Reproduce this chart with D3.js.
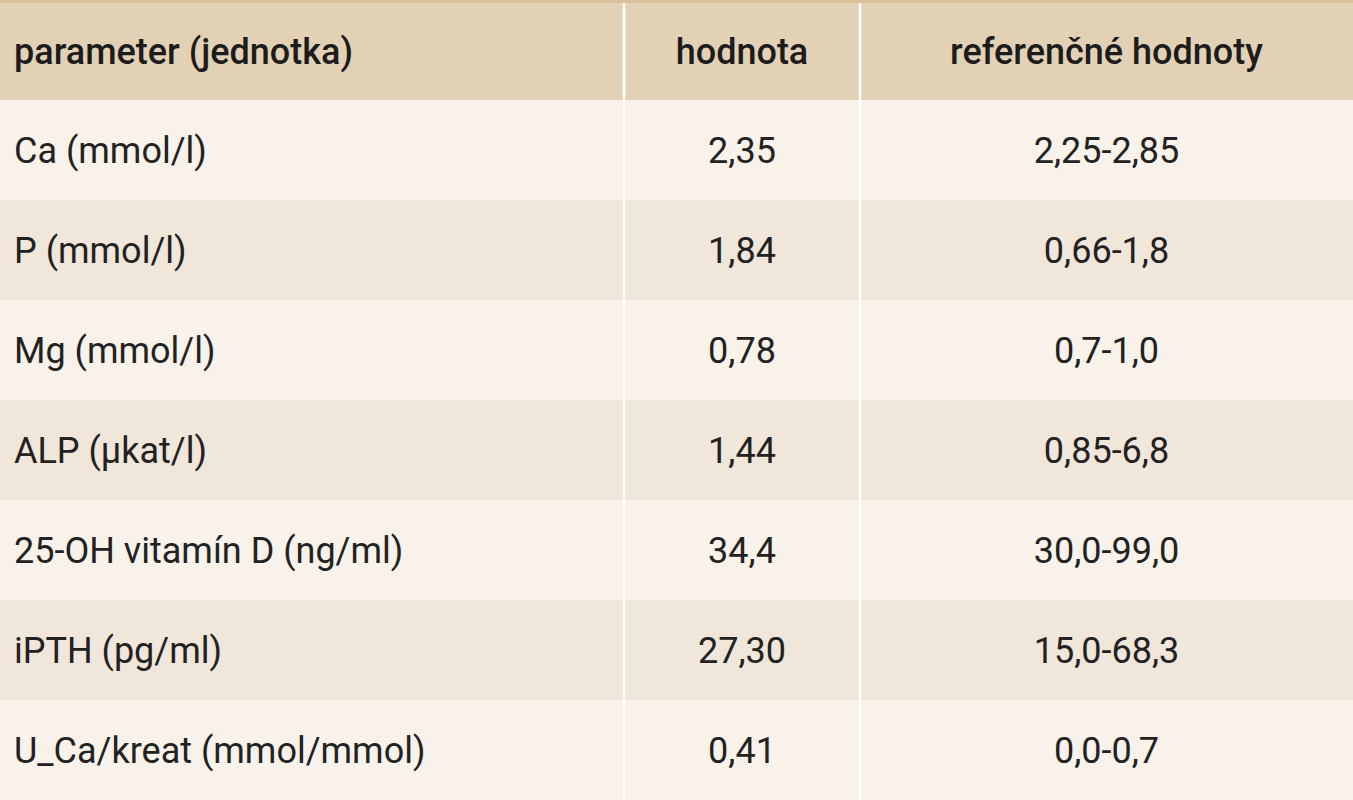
<!DOCTYPE html>
<html><head><meta charset="utf-8">
<script src="https://cdn.jsdelivr.net/npm/d3@7"></script>
<style>body{margin:0;background:#fff}</style></head>
<body><svg id="t" width="1353" height="800"></svg>
<script>
const headers = ["parameter (jednotka)", "hodnota", "referenčné hodnoty"];
const parameters = ["Ca (mmol/l)", "P (mmol/l)", "Mg (mmol/l)", "ALP (µkat/l)", "25-OH vitamín D (ng/ml)", "iPTH (pg/ml)", "U_Ca/kreat (mmol/mmol)"];
const values = ["2,35", "1,84", "0,78", "1,44", "34,4", "27,30", "0,41"];
const ranges = ["2,25-2,85", "0,66-1,8", "0,7-1,0", "0,85-6,8", "30,0-99,0", "15,0-68,3", "0,0-0,7"];

const svg = d3.select("#t");
const colEdges = [0, 624, 860, 1353];
const topBorder = 3, headH = 97;
const y = d3.scaleBand().domain(d3.range(parameters.length)).range([topBorder + headH, 800]);

// header
svg.append("rect").attr("x", 0).attr("y", 0).attr("width", 1353).attr("height", topBorder).attr("fill", "#d9bf9a");
svg.append("rect").attr("x", 0).attr("y", topBorder).attr("width", 1353).attr("height", headH).attr("fill", "#e3d1b6");

const rows = parameters.map((p, i) => [p, values[i], ranges[i]]);
svg.selectAll("rect.row").data(rows).join("rect").attr("class", "row")
  .attr("x", 0).attr("y", (d, i) => y(i)).attr("width", 1353).attr("height", y.bandwidth())
  .attr("fill", (d, i) => i % 2 ? "#f0e6d9" : "#f8f2eb");

// column dividers
svg.selectAll("line.div").data(colEdges.slice(1, 3)).join("line").attr("class", "div")
  .attr("x1", d => d).attr("x2", d => d).attr("y1", topBorder).attr("y2", 800)
  .attr("stroke", "#fff").attr("stroke-width", 2.5);

const tx = (c) => c === 0 ? 14 : (colEdges[c] + colEdges[c + 1]) / 2;
const anchor = (c) => c === 0 ? "start" : "middle";

svg.selectAll("text.h").data(headers).join("text").attr("class", "h")
  .attr("x", (d, c) => tx(c)).attr("y", topBorder + headH / 2).attr("dy", "0.35em")
  .attr("text-anchor", (d, c) => anchor(c))
  .attr("font-family", "Roboto, sans-serif").attr("font-size", 36).attr("font-weight", 500)
  .attr("fill", "#1c1c1c").text(d => d);

rows.forEach((r, i) => {
  svg.selectAll(null).data(r).join("text")
    .attr("x", (d, c) => tx(c)).attr("y", y(i) + y.bandwidth() / 2).attr("dy", "0.35em")
    .attr("text-anchor", (d, c) => anchor(c))
    .attr("font-family", "Roboto, sans-serif").attr("font-size", 36)
    .attr("fill", "#222").text(d => d);
});
</script></body></html>
